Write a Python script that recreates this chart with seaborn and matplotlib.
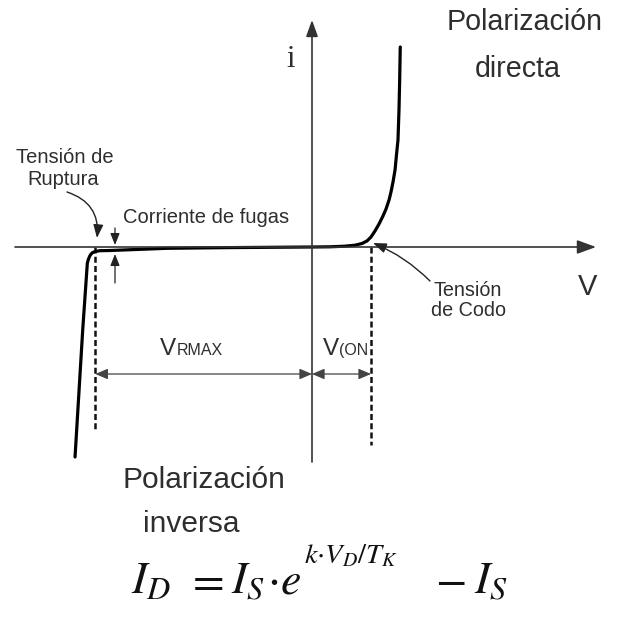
import matplotlib
matplotlib.use("Agg")
import matplotlib.pyplot as plt
import seaborn as sns

# Diode characteristic, V in volts, i in arbitrary current units
v_curve = [-2.811, -2.720, -2.665, -2.651, -2.633, -2.610, -2.574, -2.515, -2.396,
           -1.720, -0.973, 0.0,
           0.214, 0.391, 0.510, 0.593, 0.652, 0.700, 0.747, 0.795, 0.842, 0.878,
           0.914, 0.937, 0.961, 0.985, 1.002, 1.020, 1.032, 1.040, 1.047]
i_curve = [-21.0, -8.3, -1.6, -1.2, -0.85, -0.6, -0.45, -0.37, -0.35,
           -0.13, -0.06, 0.0,
           0.02, 0.08, 0.18, 0.35, 0.6, 1.0, 1.6, 2.3, 3.1, 3.8,
           4.7, 5.5, 6.5, 7.7, 9.2, 10.7, 13.7, 16.7, 20.0]
v_breakdown = -2.57   # tensión de ruptura (-V_RMAX)
v_knee = 0.70         # tensión de codo V(ON)

sns.set_theme(style="white")
plt.rcParams["font.family"] = ["Liberation Sans", "DejaVu Sans"]
plt.rcParams["mathtext.fontset"] = "stix"

W, H = 617, 621
SX, SY = 84.3, 10.0      # pixels per volt / per current unit
OX, OY = 312, 247        # origin in pixels

fig = plt.figure(figsize=(W / 100, H / 100), dpi=100)
ax = fig.add_axes([0, 0, 1, 1])
ax.set_xlim(-OX / SX, (W - OX) / SX)
ax.set_ylim((OY - H) / SY, OY / SY)
ax.axis("off")


def at(px, py):
    """Layout helper: pixel position -> data position."""
    return ((px - OX) / SX, (OY - py) / SY)


TXT = "#2e2e2e"
AX_COL = "#333333"

# axes with arrow heads
ax.annotate("", xy=at(596, OY), xytext=at(15, OY),
            arrowprops=dict(arrowstyle="-|>,head_length=1.15,head_width=0.42",
                            color=AX_COL, lw=1.2, shrinkA=0, shrinkB=0,
                            mutation_scale=10))
ax.annotate("", xy=at(OX, 20), xytext=at(OX, 462),
            arrowprops=dict(arrowstyle="-|>,head_length=1.0,head_width=0.36",
                            color=AX_COL, lw=1.2, shrinkA=0, shrinkB=0,
                            mutation_scale=10))

# dashed reference lines
ax.plot([v_breakdown, v_breakdown], [0, at(0, 430)[1]], color="#111",
        lw=1.8, linestyle=(0, (2.4, 1.3)))
ax.plot([v_knee, v_knee], [0, at(0, 445)[1]], color="#111",
        lw=1.8, linestyle=(0, (2.4, 1.3)))

# characteristic curve
sns.lineplot(x=v_curve, y=i_curve, sort=False, estimator=None, color="black",
             lw=2.3, ax=ax)

# dimension arrows
y_dim = at(0, 374)[1]
dim = dict(arrowstyle="<|-|>,head_length=0.75,head_width=0.32", color="#444",
           lw=0.9, shrinkA=0, shrinkB=0, mutation_scale=10)
ax.annotate("", xy=(v_breakdown, y_dim), xytext=(0, y_dim), arrowprops=dim)
ax.annotate("", xy=(0, y_dim), xytext=(v_knee, y_dim), arrowprops=dim)

# leakage current marker arrows
small = dict(arrowstyle="-|>,head_length=0.7,head_width=0.28", color="#222",
             lw=0.9, shrinkA=0, shrinkB=0, mutation_scale=10)
ax.annotate("", xy=at(115, 245), xytext=at(115, 228), arrowprops=small)
ax.annotate("", xy=at(115, 254), xytext=at(115, 283), arrowprops=small)

# curved pointer arrows
curved = dict(arrowstyle="-|>,head_length=0.8,head_width=0.3", color="#222",
              lw=1.0, shrinkA=0, shrinkB=0, mutation_scale=10)
ax.annotate("", xy=at(97, 238), xytext=at(67, 192),
            arrowprops=dict(curved, connectionstyle="arc3,rad=-0.4"))
ax.annotate("", xy=at(373, 243), xytext=at(430, 281),
            arrowprops=dict(curved, connectionstyle="arc3,rad=0.1"))


def label(px, py, s, size, **kw):
    ax.text(*at(px, py), s, fontsize=size, ha=kw.pop("ha", "center"),
            va="baseline", color=kw.pop("color", TXT), **kw)


label(525, 30, "Polarización", 20.6)
label(518, 77, "directa", 20.6)
label(204, 488, "Polarización", 21.5)
label(191, 532, "inversa", 21.5)
label(65, 163, "Tensión de", 14.5)
label(63.5, 185, "Ruptura", 14.5)
label(206, 223, "Corriente de fugas", 14.5)
label(468, 296, "Tensión", 14.2)
label(468, 316, "de Codo", 14.2)
label(588, 295, "V", 21)
label(291, 67, "i", 22, family="Liberation Serif")
label(176, 355, "V", 17.5, ha="right")
label(177, 355, "RMAX", 11.5, ha="left")
label(323, 355, "V", 17.5, ha="left")
label(339, 355, "(ON", 11.5, ha="left")

# diode equation, set piece by piece
EQ = "#111111"
label(131, 593, r"$I_D$", 33, ha="left", color=EQ)
label(205, 593, r"$=$", 33, color=EQ)
label(231, 593, r"$I_S$", 33, ha="left", color=EQ)
label(267, 593, r"${\cdot}e$", 33, ha="left", color=EQ)
label(304, 563, r"$k{\cdot}V_D/T_K$", 20.5, ha="left", color=EQ)
label(450, 593, r"$-$", 33, color=EQ)
label(474, 593, r"$I_S$", 33, ha="left", color=EQ)

fig.savefig("out.png", dpi=100, facecolor="white")
